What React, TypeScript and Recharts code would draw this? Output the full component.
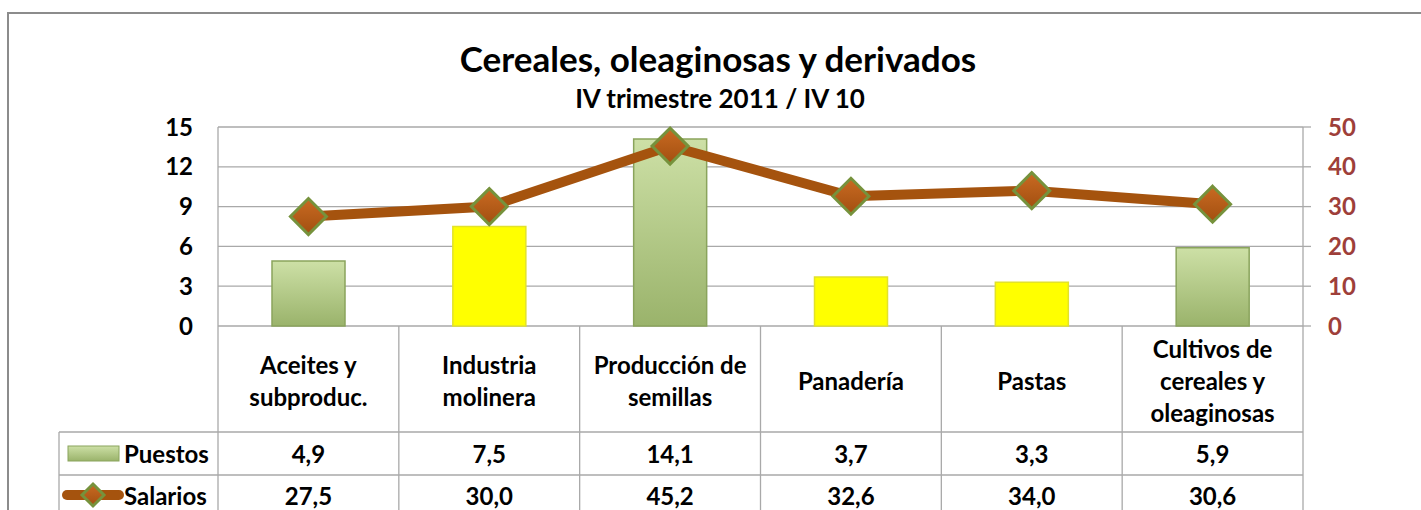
import { ComposedChart, Bar, Line, XAxis, YAxis, CartesianGrid, Cell } from 'recharts'

const categories = ['Aceites y\nsubproduc.', 'Industria\nmolinera', 'Producción de\nsemillas', 'Panadería', 'Pastas', 'Cultivos de\ncereales y\noleaginosas']
const puestos = [4.9, 7.5, 14.1, 3.7, 3.3, 5.9]
const salarios = [27.5, 30.0, 45.2, 32.6, 34.0, 30.6]
const leftTicks = [0, 3, 6, 9, 12, 15]
const rightTicks = [0, 10, 20, 30, 40, 50]
// bars painted yellow in the original
const yellowCats = ['Industria\nmolinera', 'Panadería', 'Pastas']

const data = categories.map((cat, i) => ({ cat, puestos: puestos[i], salarios: salarios[i] }))

const FONT = 'Lato, "Open Sans", sans-serif'
const GRID = '#a9a9a9'
const LINE = '#a5530e'
const RIGHT_AX = '#9e3f3a'

const fmt = (v: number) => v.toFixed(1).replace('.', ',')

const txt = { fontFamily: FONT, fontWeight: 700, fontSize: 24, fill: '#000' }

function Diamond({ cx, cy, r = 18 }: { cx: number; cy: number; r?: number }) {
  return (
    <polygon points={`${cx},${cy - r} ${cx + r},${cy} ${cx},${cy + r} ${cx - r},${cy}`}
      fill="url(#diaGrad)" stroke="#76923c" strokeWidth={3} />
  )
}

function TableTick(props: any) {
  const { x, y, payload, index } = props
  const bw = (props.width || 1085) / categories.length
  const left = x - bw / 2
  const right = x + bw / 2
  const lines = String(payload.value).split('\n')
  const row1 = y + 106
  const row2 = y + 149
  const bottom = y + 200
  return (
    <g>
      <line x1={left} x2={left} y1={y} y2={bottom} stroke={GRID} strokeWidth={1.3} />
      {index === categories.length - 1 && <line x1={right} x2={right} y1={y} y2={bottom} stroke={GRID} strokeWidth={1.3} />}
      <line x1={index === 0 ? left - 159 : left} x2={right} y1={row1} y2={row1} stroke={GRID} strokeWidth={1.3} />
      <line x1={index === 0 ? left - 159 : left} x2={right} y1={row2} y2={row2} stroke={GRID} strokeWidth={1.3} />
      {lines.map((l, k) => (
        <text key={k} x={x} y={y + 54 + (k - (lines.length - 1) / 2) * 32} textAnchor="middle" dominantBaseline="central" style={txt}>{l}</text>
      ))}
      <text x={x} y={row1 + 21} textAnchor="middle" dominantBaseline="central" style={txt}>{fmt(puestos[index])}</text>
      <text x={x} y={row2 + 20} textAnchor="middle" dominantBaseline="central" style={txt}>{fmt(salarios[index])}</text>
      {index === 0 && (
        <g>
          <line x1={left - 159} x2={left - 159} y1={row1} y2={bottom} stroke={GRID} strokeWidth={1.3} />
          <rect x={left - 150} y={row1 + 14} width={51} height={15} fill="url(#greenGrad)" stroke="#8aa45c" strokeWidth={1} />
          <text x={left - 94} y={row1 + 21} dominantBaseline="central" style={txt}>Puestos</text>
          <line x1={left - 151} x2={left - 99} y1={row2 + 20} y2={row2 + 20} stroke={LINE} strokeWidth={10} strokeLinecap="round" />
          <Diamond cx={left - 125} cy={row2 + 20} r={11} />
          <text x={left - 94} y={row2 + 20} dominantBaseline="central" style={txt}>Salarios</text>
        </g>
      )}
    </g>
  )
}

export default function App() {
  return (
    <div style={{ position: 'absolute', left: 0, top: 0, width: 1421, height: 510, overflow: 'hidden', background: '#fff' }}>
      <div style={{ position: 'absolute', left: 7, top: 12, width: 1500, height: 600, border: '2px solid #8c8c8c' }} />
      <div style={{ position: 'absolute', left: 0, width: 1436, top: 36, textAlign: 'center', fontFamily: FONT, fontWeight: 700, fontSize: 35, lineHeight: '44px', color: '#000' }}>
        Cereales, oleaginosas y derivados
      </div>
      <div style={{ position: 'absolute', left: 0, width: 1440, top: 82, textAlign: 'center', fontFamily: FONT, fontWeight: 700, fontSize: 26, lineHeight: '32px', color: '#000' }}>
        IV trimestre 2011 / IV 10
      </div>
      <div style={{ position: 'absolute', left: 0, top: 0 }}>
        <ComposedChart width={1421} height={510} data={data} margin={{ top: 127, right: 58, bottom: 0, left: 158 }}>
          <defs>
            <linearGradient id="greenGrad" x1="0" y1="0" x2="0" y2="1">
              <stop offset="0%" stopColor="#cde0a6" />
              <stop offset="100%" stopColor="#9ab36b" />
            </linearGradient>
            <linearGradient id="diaGrad" x1="0" y1="0" x2="0" y2="1">
              <stop offset="0%" stopColor="#c96a22" />
              <stop offset="100%" stopColor="#a24f10" />
            </linearGradient>
          </defs>
          <CartesianGrid vertical={false} stroke={GRID} strokeWidth={1.3} yAxisId="left" />
          <XAxis dataKey="cat" height={184} interval={0} tickSize={0} tickMargin={0} axisLine={false} tickLine={false} tick={<TableTick />} />
          <YAxis yAxisId="left" width={60} domain={[0, 15]} ticks={leftTicks} axisLine={{ stroke: GRID, strokeWidth: 1.3 }} tickLine={false} tickMargin={19}
            tick={{ fontFamily: FONT, fontWeight: 700, fontSize: 24, fill: '#000' }} />
          <YAxis yAxisId="right" orientation="right" width={60} domain={[0, 50]} ticks={rightTicks} axisLine={{ stroke: GRID, strokeWidth: 1.3 }}
            tickLine={{ stroke: GRID, strokeWidth: 1.3 }} tickSize={8} tickMargin={17}
            tick={{ fontFamily: FONT, fontWeight: 700, fontSize: 24, fill: RIGHT_AX, textAnchor: 'start' }} />
          <Bar yAxisId="left" dataKey="puestos" barSize={73} isAnimationActive={false}>
            {data.map(d => {
              const yellow = yellowCats.includes(d.cat)
              return <Cell key={d.cat} fill={yellow ? '#ffff00' : 'url(#greenGrad)'} stroke={yellow ? '#e2e22a' : '#8aa45c'} strokeWidth={1.5} />
            })}
          </Bar>
          <Line yAxisId="right" dataKey="salarios" stroke={LINE} strokeWidth={10} isAnimationActive={false} activeDot={false}
            dot={(p: any) => <Diamond key={p.index} cx={p.cx} cy={p.cy} />} />
        </ComposedChart>
      </div>
    </div>
  )
}
